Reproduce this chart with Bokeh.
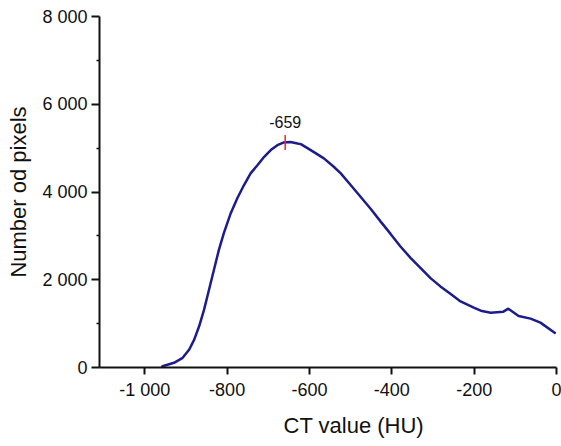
from bokeh.plotting import figure
from bokeh.models import Range1d, FixedTicker, Title
from bokeh.core.properties import value
from bokeh.embed import file_html
from bokeh.resources import INLINE
import math

# Histogram curve (CT value in HU vs number of pixels)
ct_values = [-960, -953, -929, -908, -892, -880, -868, -856, -844, -832, -820, -808,
             -791, -775, -759, -743, -726, -710, -694, -678, -662, -646, -629, -621,
             -597, -565, -541, -524, -500, -476, -451, -427, -403, -379, -354, -330,
             -306, -282, -257, -233, -201, -184, -160, -129, -117, -92, -63, -39, -2]
pixel_counts = [15, 40, 107, 220, 410, 636, 939, 1318, 1773, 2227, 2682, 3061,
                3523, 3864, 4159, 4424, 4614, 4803, 4955, 5068, 5129, 5140, 5106, 5091,
                4955, 4766, 4575, 4424, 4159, 3893, 3614, 3325, 3045, 2757, 2493, 2266,
                2038, 1848, 1675, 1507, 1364, 1295, 1250, 1273, 1341, 1175, 1114, 1023, 773]

peak_x = [-659]
peak_y = [5130]
peak_label = ["-659"]

x_ticks = [-1000, -800, -600, -400, -200, 0]
x_tick_labels = ["-1 000", "-800", "-600", "-400", "-200", "0"]
y_ticks = [0, 2000, 4000, 6000, 8000]
y_minor_ticks = [1000, 3000, 5000, 7000]
y_tick_labels = ["0", "2 000", "4 000", "6 000", "8 000"]

FONT = "Liberation Sans"

p = figure(width=561, height=446, output_backend="svg", toolbar_location=None,
           x_range=Range1d(-1110, 0), y_range=Range1d(0, 8000),
           min_border_left=99, min_border_right=5, min_border_top=16, min_border_bottom=79)
p.outline_line_color = None
p.xgrid.grid_line_color = None
p.ygrid.grid_line_color = None
p.background_fill_color = "white"
p.border_fill_color = "white"

p.line(ct_values, pixel_counts, line_color="#1c1c8c", line_width=2.5)

p.scatter(peak_x, peak_y, marker="dash", angle=math.pi / 2, size=15,
          line_color="#ff2020", line_width=1.5)
p.text(peak_x, peak_y, text=peak_label, y_offset=-20, text_align="center",
       text_baseline="middle", text_font=value(FONT), text_font_size="16px",
       text_color="#111111")

for ax in (p.xaxis[0], p.yaxis[0]):
    ax.axis_line_width = 2
    ax.axis_line_color = "#111111"
    ax.major_tick_line_width = 2
    ax.major_tick_line_color = "#111111"
    ax.major_tick_in = 0
    ax.minor_tick_in = 0
    ax.major_label_text_font = FONT
    ax.major_label_text_font_size = "18px"
    ax.major_label_text_color = "#111111"
    ax.axis_label_text_font = FONT
    ax.axis_label_text_font_size = "22px"
    ax.axis_label_text_font_style = "normal"
    ax.axis_label_text_color = "#111111"

p.xaxis[0].ticker = FixedTicker(ticks=x_ticks)
p.xaxis[0].major_label_overrides = dict(zip(x_ticks, x_tick_labels))
p.xaxis[0].minor_tick_line_color = None
p.xaxis[0].major_tick_out = 7
p.xaxis[0].major_label_standoff = 5

x_title = Title(text="CT value (HU)", align="left", offset=184, standoff=17,
                text_font=FONT, text_font_size="22px", text_font_style="normal",
                text_color="#111111")
p.add_layout(x_title, "below")

p.yaxis[0].ticker = FixedTicker(ticks=y_ticks, minor_ticks=y_minor_ticks)
p.yaxis[0].major_label_overrides = dict(zip(y_ticks, y_tick_labels))
p.yaxis[0].major_tick_out = 8
p.yaxis[0].minor_tick_out = 3
p.yaxis[0].minor_tick_line_width = 1.5
p.yaxis[0].minor_tick_line_color = "#111111"
p.yaxis[0].axis_label = "Number od pixels"
p.yaxis[0].major_label_standoff = 4
p.yaxis[0].axis_label_standoff = 8

open("out.html", "w").write(file_html(p, INLINE))
